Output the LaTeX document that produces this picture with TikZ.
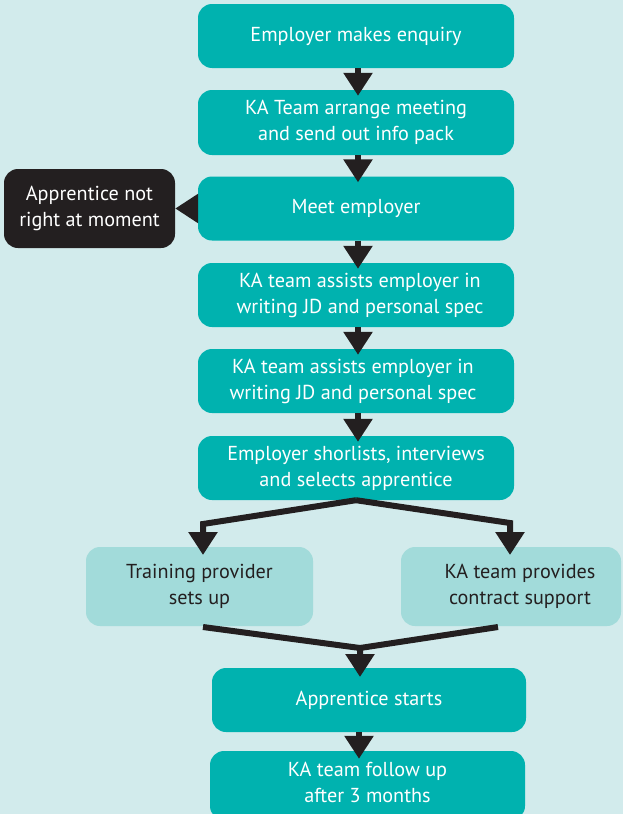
\documentclass[tikz,border=0pt]{standalone}
\usepackage{fontspec}
\setmainfont{PT Sans}
\usetikzlibrary{arrows.meta}
\definecolor{bg}{HTML}{D2EBEC}
\definecolor{teal1}{HTML}{00B2AF}
\definecolor{teal2}{HTML}{A2DBDA}
\definecolor{ink}{HTML}{231F20}
\begin{document}
\begin{tikzpicture}[x=1pt,y=-1pt,
  txt/.style={inner sep=0pt, align=center, font=\fontsize{20.2}{26}\selectfont},
  base/.style={txt, rectangle, rounded corners=14pt},
  tbox/.style={base, fill=teal1, text=white, minimum width=316pt, minimum height=64pt},
  lbox/.style={base, fill=teal2, text=ink, minimum height=79pt},
  dbox/.style={base, fill=ink, text=white, minimum height=79pt},
  wire/.style={draw=ink, line width=6pt, line join=miter},
  arr/.style={wire, -{Triangle[width=28pt,length=23pt]}}]
\fill[bg] (0,0) rectangle (623,814);
\clip (0,0) rectangle (623,814);

% main column
\node[tbox] (n1) at (356,36) {Employer makes enquiry};
\node[tbox, minimum height=65pt] (n2) at (356,122.5) {KA Team arrange meeting\\and send out info pack};
\node[tbox] (n3) at (356,208.5) {Meet employer};
\node[tbox] (n4) at (356,295) {\hspace*{8pt}KA team assists employer in\\\hspace*{8pt}writing JD and personal spec};
\node[tbox] (n5) at (356,381) {KA team assists employer in\hspace*{6pt}\\writing JD and personal spec\hspace*{6pt}};
\node[tbox] (n6) at (356,468) {Employer shorlists, interviews\\and selects apprentice};

% side exit
\node[dbox, minimum width=171pt] (nx) at (89.5,208.5) {Apprentice not\\right at moment};

% parallel steps
\node[lbox, minimum width=227pt] (n7) at (199.5,586.5) {Training provider\\sets up};
\node[lbox, minimum width=220pt] (n8) at (511,586.5) {\hspace*{18pt}KA team provides\\\hspace*{18pt}contract support};

% final steps (the last box runs off the bottom edge)
\node[tbox, minimum width=314pt] (n9) at (369,700) {Apprentice starts};
\node[tbox, minimum width=315pt, minimum height=69pt,
  label={[txt, text=white, yshift=3pt]center:{KA team follow up\\after 3 months}}]
  (n10) at (367.5,785.5) {};

% connectors
\coordinate (ax) at (358,0);
\foreach \a/\b in {n1/n2, n2/n3, n3/n4, n4/n5, n5/n6}
  \draw[arr, shorten >=-6pt] (ax |- \a.south) -- (ax |- \b.north);
\draw[arr] (n3.west) -- (nx.east);

\coordinate (bl) at (203,524);
\coordinate (br) at (510,523);
\coordinate (tl) at (203,555);
\coordinate (tr) at (510,555);
\draw[arr] (n6.south) -- (bl) -- (tl);
\draw[arr] (n6.south) -- (br) -- (tr);

\coordinate (ml) at (203,627);
\coordinate (mr) at (498,627);
\coordinate (mj) at (360,648);
\coordinate (mt) at (360,677);
\draw[wire] (mr) -- (mj);
\draw[arr] (ml) -- (mj) -- (mt);

\coordinate (bx) at (359,0);
\draw[arr, shorten >=-8pt] (bx |- n9.south) -- (bx |- n10.north);
\end{tikzpicture}
\end{document}
